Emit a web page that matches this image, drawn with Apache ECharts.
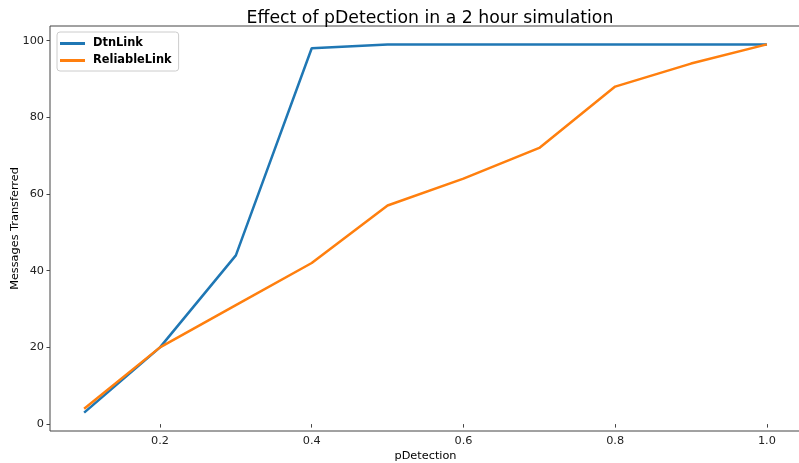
<!DOCTYPE html>
<html>
<head>
<meta charset="utf-8">
<script src="https://cdn.jsdelivr.net/npm/echarts@6/dist/echarts.min.js"></script>
<style>
  html, body { margin: 0; padding: 0; background: #fff; }
  #chart { width: 799px; height: 463px; }
</style>
</head>
<body>
<div id="chart"></div>
<script>
// pDetection sweep, 2 hour simulation
const pDetection = [0.1, 0.2, 0.3, 0.4, 0.5, 0.6, 0.7, 0.8, 0.9, 1.0];
const dtnLink = [3, 20, 44, 98, 99, 99, 99, 99, 99, 99];
const reliableLink = [4, 20, 31, 42, 57, 64, 72, 88, 94, 99];
const xTicks = [0.2, 0.4, 0.6, 0.8, 1.0];
const yTicks = [0, 20, 40, 60, 80, 100];

const font = 'DejaVu Sans';
const pairs = ys => pDetection.map((x, i) => [x, ys[i]]);

const chart = echarts.init(document.getElementById('chart'));
chart.setOption({
    animation: false,
    title: {
        text: 'Effect of pDetection in a 2 hour simulation',
        left: 425,
        textAlign: 'center',
        top: 5,
        textStyle: { fontFamily: font, fontSize: 17.3, fontWeight: 'normal', color: '#000' }
    },
    legend: {
        orient: 'vertical',
        left: 57,
        top: 32,
        padding: [6, 7, 5, 3],
        itemGap: 6,
        itemWidth: 25,
        itemHeight: 3,
        icon: 'rect',
        borderColor: '#ccc',
        borderWidth: 1,
        borderRadius: 3,
        backgroundColor: 'rgba(255,255,255,0.8)',
        textStyle: { fontFamily: font, fontSize: 11.4, fontWeight: 'bold', color: '#000', padding: [0, 0, 0, 3] }
    },
    grid: {
        left: 50, top: 26, width: 751, height: 405,
        outerBoundsMode: 'none',
        containLabel: false,
        show: true, borderColor: '#444', borderWidth: 1
    },
    xAxis: {
        type: 'value',
        min: 0.055,
        max: 1.045,
        name: 'pDetection',
        nameLocation: 'middle',
        nameGap: 20,
        nameMoveOverlap: false,
        nameTextStyle: { fontFamily: font, fontSize: 11.3, color: '#000' },
        axisLine: { show: false },
        splitLine: { show: false },
        axisTick: { customValues: xTicks, length: 3.5, lineStyle: { color: '#444' } },
        axisLabel: {
            customValues: xTicks,
            margin: 5,
            fontFamily: font, fontSize: 11.3, color: '#222',
            formatter: v => v.toFixed(1)
        }
    },
    yAxis: {
        type: 'value',
        min: -1.8,
        max: 103.8,
        name: 'Messages Transferred',
        nameLocation: 'middle',
        nameGap: 29,
        nameMoveOverlap: false,
        nameTextStyle: { fontFamily: font, fontSize: 11.3, color: '#000' },
        axisLine: { show: false },
        splitLine: { show: false },
        axisTick: { show: true, customValues: yTicks, length: 3.5, lineStyle: { color: '#444' } },
        axisLabel: {
            customValues: yTicks,
            margin: 6,
            fontFamily: font, fontSize: 11.3, color: '#222'
        }
    },
    series: [
        {
            name: 'DtnLink',
            type: 'line',
            data: pairs(dtnLink),
            showSymbol: false,
            color: '#1f77b4',
            lineStyle: { width: 2.5 }
        },
        {
            name: 'ReliableLink',
            type: 'line',
            data: pairs(reliableLink),
            showSymbol: false,
            color: '#ff7f0e',
            lineStyle: { width: 2.5 }
        }
    ]
});
</script>
</body>
</html>
